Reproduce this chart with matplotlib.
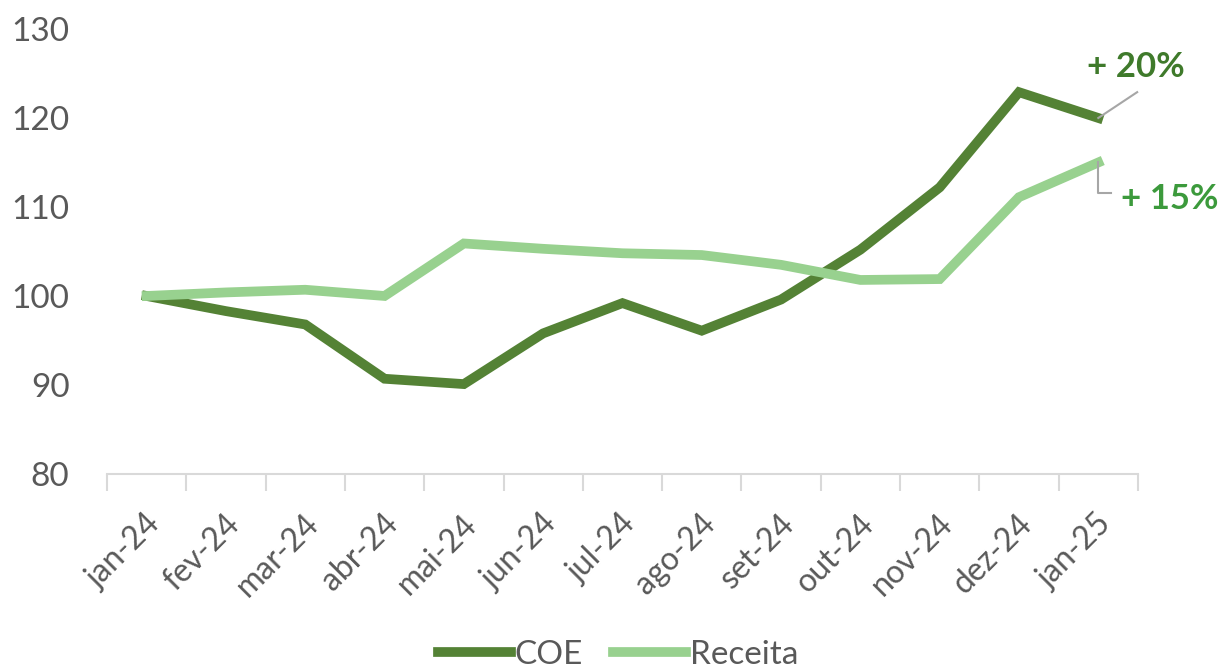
import matplotlib.pyplot as plt
from matplotlib.transforms import ScaledTranslation

plt.rcParams['font.family'] = ['Lato', 'DejaVu Sans']

meses = ["jan-24", "fev-24", "mar-24", "abr-24", "mai-24", "jun-24", "jul-24",
         "ago-24", "set-24", "out-24", "nov-24", "dez-24", "jan-25"]
coe = [100, 98.3, 96.8, 90.7, 90.1, 95.8, 99.2, 96.1, 99.6, 105.2, 112.2, 122.9, 120.0]
receita = [100, 100.4, 100.7, 100.0, 105.9, 105.3, 104.8, 104.6, 103.5, 101.8, 101.9, 111.1, 115.0]

cor_coe = "#548235"
cor_rec = "#98d18f"
cinza = "#595959"

fig = plt.figure(figsize=(12.24, 6.69), dpi=100)
ax = fig.add_axes([0.0874, 0.2915, 0.8423, 0.6652])

x = list(range(len(meses)))
ax.plot(x, coe, color=cor_coe, lw=7, label="COE", solid_joinstyle='miter', clip_on=False)
ax.plot(x, receita, color=cor_rec, lw=7, label="Receita", solid_joinstyle='miter', clip_on=False)

ax.set_ylim(80, 130)
ax.set_xlim(-0.5, len(meses) - 0.5)
ax.set_yticks([80, 90, 100, 110, 120, 130])
ax.tick_params(axis='y', length=0, labelsize=24, labelcolor=cinza, pad=27)
ax.set_xticks(x)
ax.set_xticklabels(meses, rotation=45, ha='right', va='top', rotation_mode='anchor')
ax.tick_params(axis='x', length=0, labelsize=23, labelcolor=cinza, pad=25)
desloc = ScaledTranslation(-2 / 100, 0, fig.dpi_scale_trans)
for lb in ax.get_xticklabels():
    lb.set_transform(lb.get_transform() + desloc)
# marcas entre categorias
ax.set_xticks([i - 0.5 for i in range(len(meses) + 1)], minor=True)
ax.tick_params(axis='x', which='minor', length=12, width=1.5, color="#d9d9d9")

for s in ['left', 'top', 'right']:
    ax.spines[s].set_visible(False)
ax.spines['bottom'].set_color("#d9d9d9")
ax.spines['bottom'].set_linewidth(1.5)

# rótulos de variação
ax.plot([x[-1], x[-1] + 0.49], [coe[-1], 122.9], color="#a6a6a6", lw=1.5, clip_on=False)
ax.text(x[-1] + 0.48, 125.7, "+ 20%", fontsize=25, fontweight='bold',
        color="#3f7a2b", ha='center', va='center')
ax.plot([x[-1], x[-1], x[-1] + 0.16], [receita[-1], 111.6, 111.6],
        color="#a6a6a6", lw=1.5, clip_on=False)
ax.text(x[-1] + 0.29, 110.9, "+ 15%", fontsize=25, fontweight='bold',
        color="#3c9a3c", ha='left', va='center')

fig.legend(loc='center', bbox_to_anchor=(0.505, 14 / 669), ncol=2, frameon=False,
           fontsize=24, handlelength=2.2, handletextpad=0.1, columnspacing=0.9,
           labelcolor=cinza, borderpad=0)

fig.savefig("out.png", dpi=100)
